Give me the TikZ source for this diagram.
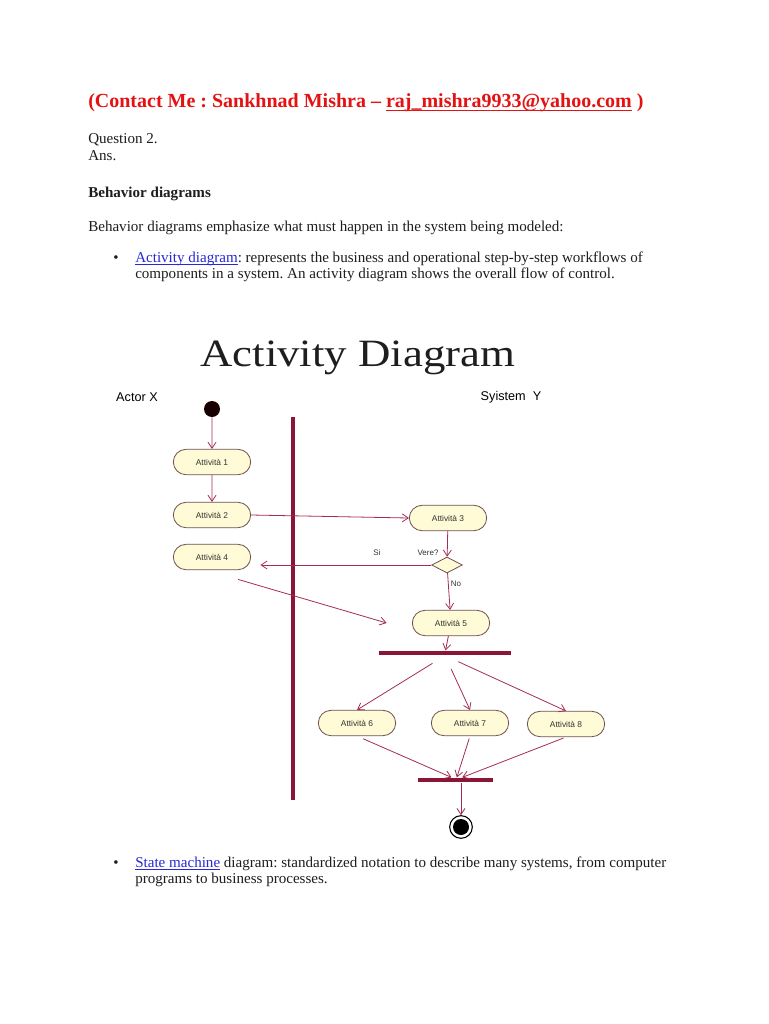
\documentclass[tikz,border=0pt]{standalone}
\usepackage{graphicx}
\usepackage{fontspec}
\setmainfont{Liberation Serif}
\newfontfamily\diagfont{Liberation Sans}
\usetikzlibrary{shapes.misc,shapes.geometric,arrows.meta}
\frenchspacing

\definecolor{headred}{RGB}{228,18,18}
\definecolor{linkblue}{RGB}{40,40,215}
\definecolor{bodytext}{RGB}{30,30,30}
\definecolor{flowred}{RGB}{165,45,85}
\definecolor{barred}{RGB}{140,20,55}
\definecolor{actfill}{RGB}{255,251,214}
\definecolor{actborder}{RGB}{110,80,80}

\newcommand{\ulink}[1]{\underline{\smash{#1}}}

\tikzset{
  txt/.style={anchor=base west, inner sep=0pt, text=bodytext, font=\fontsize{11.3}{13}\selectfont},
  act/.style={rounded rectangle, draw=actborder, fill=actfill, line width=0.6pt,
    minimum width=60pt, minimum height=19pt, inner sep=1pt,
    font=\diagfont\fontsize{6.3}{7}\selectfont, text=black!80},
  lbl/.style={inner sep=0pt, font=\diagfont\fontsize{6}{7}\selectfont, text=black!80},
  flow/.style={draw=flowred, line width=0.6pt, -{Straight Barb[length=4.5pt,width=6pt]}},
  bar/.style={fill=barred, draw=none, inner sep=0pt, minimum height=3.5pt},
}

\begin{document}
\begin{tikzpicture}[x=0.75pt, y=-0.75pt]
  \fill[white] (0,0) rectangle (768,1024);
  \useasboundingbox (0,0) rectangle (768,1024);

  % Header
  \node[txt, font=\fontsize{15}{17}\selectfont\bfseries, text=headred] (head) at (88,108)
    {(Contact Me : Sankhnad Mishra -- \ulink{raj\_mishra9933@yahoo.com} )};
  \node[txt] (q2) at (88,143) {Question 2.};
  \node[txt] (ans) at (88,160) {Ans.};
  \node[txt, font=\fontsize{11.3}{13}\selectfont\bfseries] (bd) at (88,197) {Behavior diagrams};
  \node[txt] (bdtxt) at (88,231) {Behavior diagrams emphasize what must happen in the system being modeled:};
  \node[txt] (dot1) at (113,262) {•};
  \node[txt] (ad1) at (135,262) {\textcolor{linkblue}{\ulink{Activity diagram}}: represents the business and operational step-by-step workflows of};
  \node[txt] (ad2) at (135,278) {components in a system. An activity diagram shows the overall flow of control.};

  % Title and lanes
  \node[txt, font=\fontsize{29}{32}\selectfont] (title) at (200,366) {\scalebox{1.16}[1]{Activity Diagram}};
  \node[font=\diagfont\fontsize{9.5}{11}\selectfont, inner sep=0pt] (actx) at (137,397) {Actor X};
  \node[font=\diagfont\fontsize{9.5}{11}\selectfont, inner sep=0pt] (sysy) at (511,397) {Syistem \ Y};
  \draw[barred, line width=3pt] (293,417) -- (293,800);

  % Activities
  \node[circle, fill=black!90!red, minimum size=12pt, inner sep=0pt] (start) at (212,409) {};
  \node[act] (a1) at (212,462) {Attività 1};
  \node[act] (a2) at (212,515) {Attività 2};
  \node[act] (a4) at (212,557) {Attività 4};
  \node[act] (a3) at (448,518) {Attività 3};
  \node[diamond, aspect=2, draw=actborder, fill=actfill, line width=0.6pt,
    minimum width=23pt, minimum height=12pt, inner sep=0pt] (dec) at (447,565) {};
  \node[act] (a5) at (451,623) {Attività 5};
  \node[bar, minimum width=99pt] (fork) at (445,653) {};
  \node[act] (a6) at (357,723) {Attività 6};
  \node[act] (a7) at (470,723) {Attività 7};
  \node[act] (a8) at (566,724) {Attività 8};
  \node[bar, minimum width=56pt] (join) at (455.5,780) {};
  \node[circle, draw=black, line width=0.8pt, fill=white, minimum size=17pt, inner sep=0pt] (stop) at (461,827) {};
  \fill[black] (stop.center) circle (6pt);

  % Labels
  \node[lbl] (vere) at (428,553) {Vere?};
  \node[lbl] (si) at (377,553) {Si};
  \node[lbl] (no) at (456,584) {No};

  % Arrows
  \draw[flow] (start) -- (a1);
  \draw[flow] (a1) -- (a2);
  \draw[flow] (a2.east) -- (a3.west);
  \draw[flow] (a3) -- (dec);
  \draw[flow, shorten >=7pt] (dec.west) -- (dec.west -| a4.east);
  \draw[flow] (dec) -- (a5);
  \draw[flow] ([yshift=-7pt]a4.south east) -- ([xshift=-19pt]a5.west);
  \draw[flow] (a5) -- (fork);
  \draw[flow, shorten <=11pt] (fork.south) -- (a6.north);
  \draw[flow, shorten <=11pt] (fork.south) -- (a7.north);
  \draw[flow, shorten <=11pt] (fork.south) -- (a8.north);
  \draw[flow, shorten <=5pt] (a6.south) -- ([xshift=-3pt]join.north);
  \draw[flow, shorten <=2pt] (a7.south) -- ([xshift=1pt]join.north);
  \draw[flow, shorten <=2pt] (a8.south) -- ([xshift=5pt]join.north);
  \draw[flow] (join.south -| stop.north) -- (stop.north);

  % Footer
  \node[txt] (dot2) at (113,867) {•};
  \node[txt] (sm1) at (135,867) {\textcolor{linkblue}{\ulink{State machine}} diagram: standardized notation to describe many systems, from computer};
  \node[txt] (sm2) at (135,883) {programs to business processes.};
\end{tikzpicture}
\end{document}
